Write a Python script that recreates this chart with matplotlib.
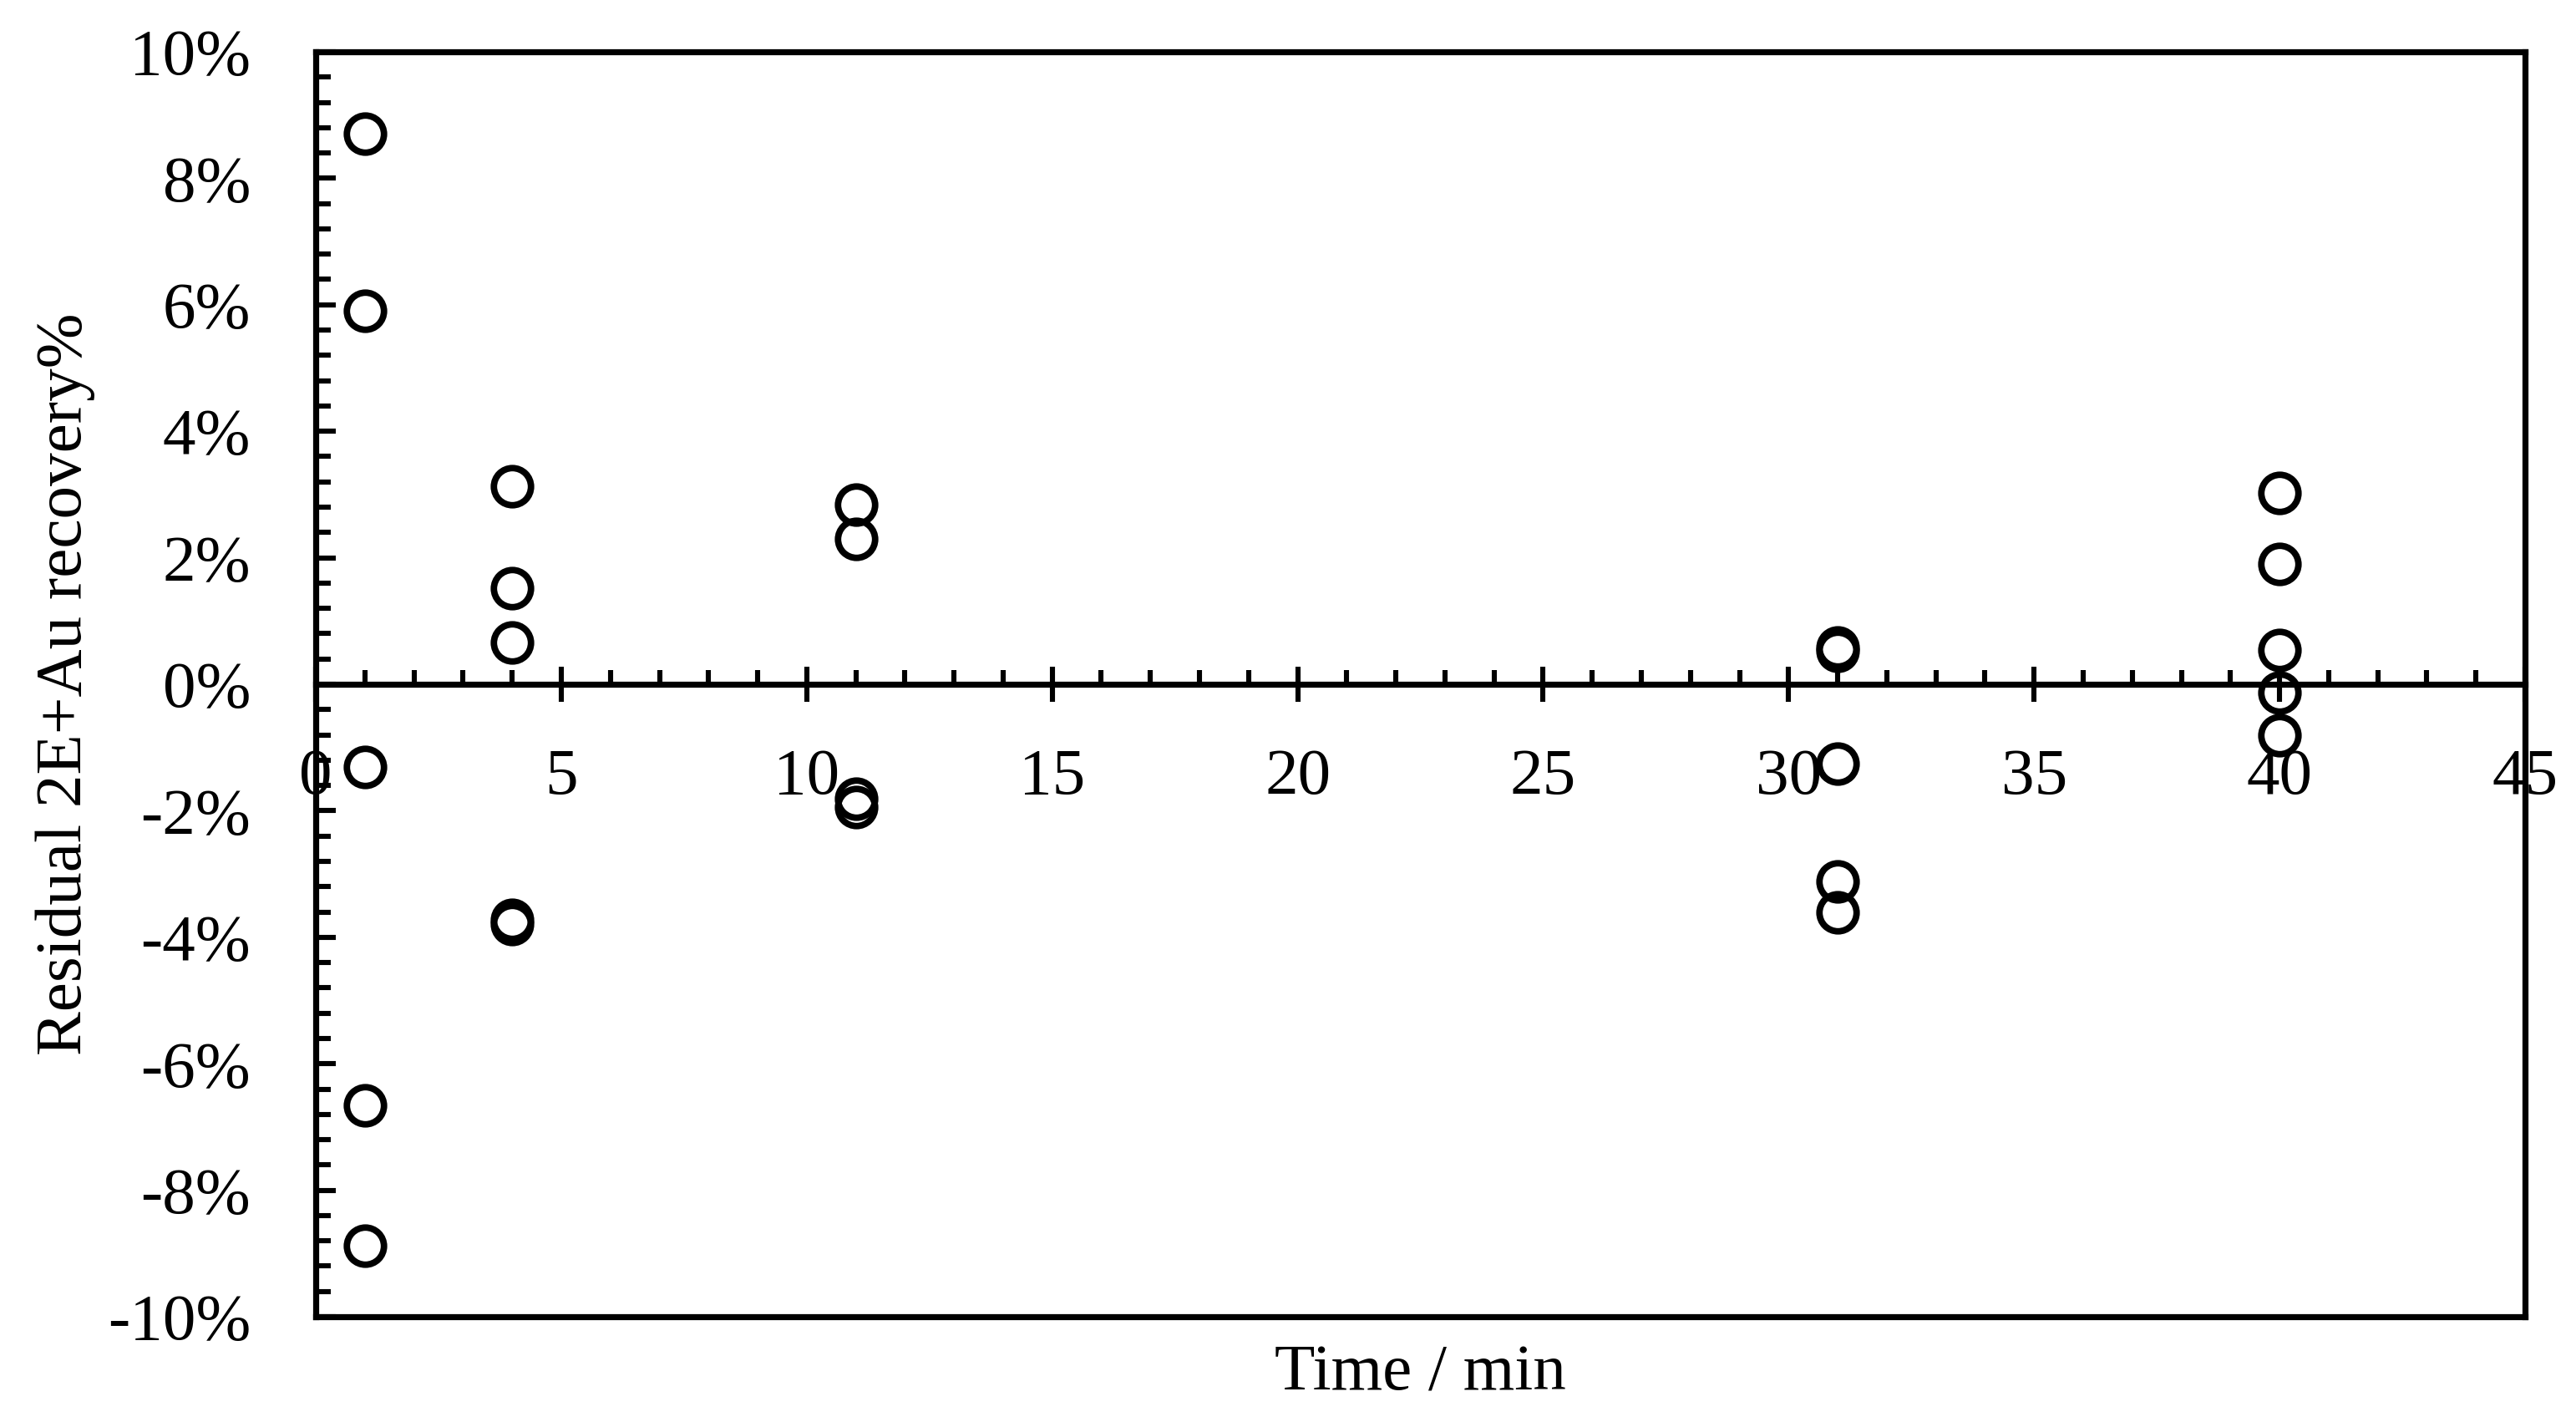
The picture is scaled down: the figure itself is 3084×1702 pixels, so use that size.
import matplotlib
matplotlib.use("Agg")
import matplotlib.pyplot as plt
from matplotlib.ticker import MultipleLocator, FuncFormatter

plt.rcParams['font.family'] = ['Liberation Serif', 'DejaVu Serif']
plt.rcParams['font.size'] = 28.5

# residuals (time in min, residual in %)
time_min = [1, 1, 1, 1, 1,
            4, 4, 4, 4, 4,
            11, 11, 11, 11,
            31, 31, 31, 31, 31,
            40, 40, 40, 40, 40]
residual_pct = [8.71, 5.91, -1.31, -6.66, -8.87,
                3.13, 1.52, 0.66, -3.73, -3.79,
                2.84, 2.30, -1.81, -1.94,
                0.58, 0.53, -1.25, -3.12, -3.60,
                3.02, 1.90, 0.54, -0.13, -0.81]

x_ticks = [0, 5, 10, 15, 20, 25, 30, 35, 40, 45]

fig = plt.figure(figsize=(15.42, 8.51), dpi=200)
ax = fig.add_axes([0.1226, 0.074, 0.8576, 0.8896])

ax.plot(time_min, residual_pct, 'o', mfc='none', mec='black',
        ms=16, mew=2.8, clip_on=False, zorder=3)

ax.set_xlim(0, 45)
ax.set_ylim(-10, 10)

# x axis runs through zero, box closed by a line at the bottom
ax.spines['bottom'].set_position(('data', 0))
for s in ax.spines.values():
    s.set_linewidth(2.6)
ax.axhline(ax.get_ylim()[0], color='black', lw=2.6, clip_on=False, zorder=4)

ax.set_xticks(x_ticks)
ax.xaxis.set_minor_locator(MultipleLocator(1))
ax.tick_params(axis='x', which='major', direction='inout', length=15,
               width=2.2, pad=20)
ax.tick_params(axis='x', which='minor', direction='in', length=6, width=2.2)

ax.yaxis.set_major_locator(MultipleLocator(2))
ax.yaxis.set_minor_locator(MultipleLocator(0.4))
ax.yaxis.set_major_formatter(FuncFormatter(lambda v, p: '%d%%' % round(v)))
ax.tick_params(axis='y', which='major', direction='in', length=8.5,
               width=2.2, pad=28)
ax.tick_params(axis='y', which='minor', direction='in', length=6.5, width=2.2)

ax.set_xlabel('Time / min')
ax.xaxis.set_label_coords(0.5, -0.022)
ax.set_ylabel('Residual 2E+Au recovery%')
ax.yaxis.set_label_coords(-0.1, 0.5)

fig.savefig('out.png', dpi=200)
